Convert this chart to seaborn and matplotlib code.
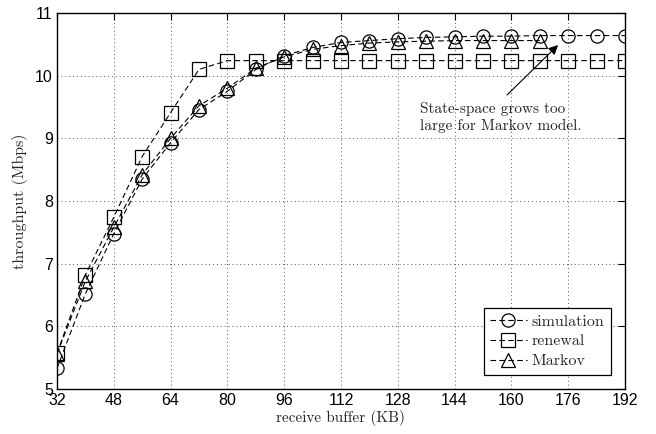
import numpy as np
import pandas as pd
import matplotlib
matplotlib.use("Agg")
import matplotlib.pyplot as plt
import seaborn as sns

# ---- data ----
buffer_sim = [32, 40, 48, 56, 64, 72, 80, 88, 96, 104, 112, 120, 128, 136, 144, 152, 160, 168, 176, 184, 192]
simulation = [5.33, 6.52, 7.48, 8.35, 8.93, 9.46, 9.75, 10.10, 10.32, 10.45, 10.53, 10.56, 10.59, 10.61,
              10.62, 10.63, 10.63, 10.64, 10.64, 10.64, 10.64]
buffer_ren = [32, 40, 48, 56, 64, 72, 80, 88, 96, 104, 112, 120, 128, 136, 144, 152, 160, 168, 176, 184, 192]
renewal = [5.57, 6.82, 7.74, 8.71, 9.41, 10.10, 10.24, 10.24, 10.24, 10.24, 10.24, 10.24, 10.24, 10.24,
           10.24, 10.24, 10.24, 10.24, 10.24, 10.24, 10.24]
buffer_mk = [32, 40, 48, 56, 64, 72, 80, 88, 96, 104, 112, 120, 128, 136, 144, 152, 160, 168]
markov = [5.56, 6.72, 7.58, 8.42, 9.00, 9.52, 9.80, 10.12, 10.30, 10.42, 10.48, 10.52, 10.54, 10.55,
          10.56, 10.56, 10.56, 10.56]

xticks = [32, 48, 64, 80, 96, 112, 128, 144, 160, 176, 192]
yticks = [5, 6, 7, 8, 9, 10, 11]

sns.set_style("white")
plt.rcParams['font.family'] = ['Liberation Sans', 'DejaVu Sans']

fig = plt.figure(figsize=(6.56, 4.34), dpi=100)
ax = fig.add_axes([57/656, 1-389/434, 568/656, 376/434])

common = dict(color='k', lw=0.8, linestyle=(0, (5, 3)), markersize=9.5,
              markerfacecolor='none', markeredgecolor='k', markeredgewidth=0.9, ax=ax)
sns.lineplot(x=buffer_sim, y=simulation, marker='o', label='simulation', **common)
sns.lineplot(x=buffer_ren, y=renewal, marker='s', label='renewal', **common)
sns.lineplot(x=buffer_mk, y=markov, marker='^', label='Markov', **common)

ax.set_xlim(32, 192)
ax.set_ylim(5, 11)
ax.set_xticks(xticks)
ax.set_yticks(yticks)
ax.tick_params(direction='in', length=5, width=0.8, top=True, right=True,
               labelsize=11.5, colors='k', pad=3)
for s in ax.spines.values():
    s.set_visible(True)
    s.set_color('k')
    s.set_linewidth(1.0)
ax.grid(True, linestyle=(0, (1, 3)), color='#555555', lw=0.7)

serif = 'cmr10'
ax.set_xlabel('receive buffer (KB)', fontfamily=serif, fontsize=11, labelpad=1)
ax.set_ylabel('throughput (Mbps)', fontfamily=serif, fontsize=11.5, labelpad=5)

leg = ax.legend(loc='lower right', prop={'family': serif, 'size': 11.5}, frameon=True,
                fancybox=False, edgecolor='k', framealpha=1, handlelength=2.3,
                handletextpad=0.3, borderpad=0.4, labelspacing=0.35, borderaxespad=0.9)
leg.get_frame().set_linewidth(0.9)

ax.annotate('', xy=(173.7, 10.52), xytext=(158.2, 9.66),
            arrowprops=dict(arrowstyle='-|>', color='k', lw=0.8, mutation_scale=14))
ax.text(134.3, 9.58, 'State-space grows too\nlarge for Markov model.', fontfamily=serif,
        fontsize=11, ha='left', va='top', linespacing=1.25)

fig.savefig('out.png', dpi=100)
